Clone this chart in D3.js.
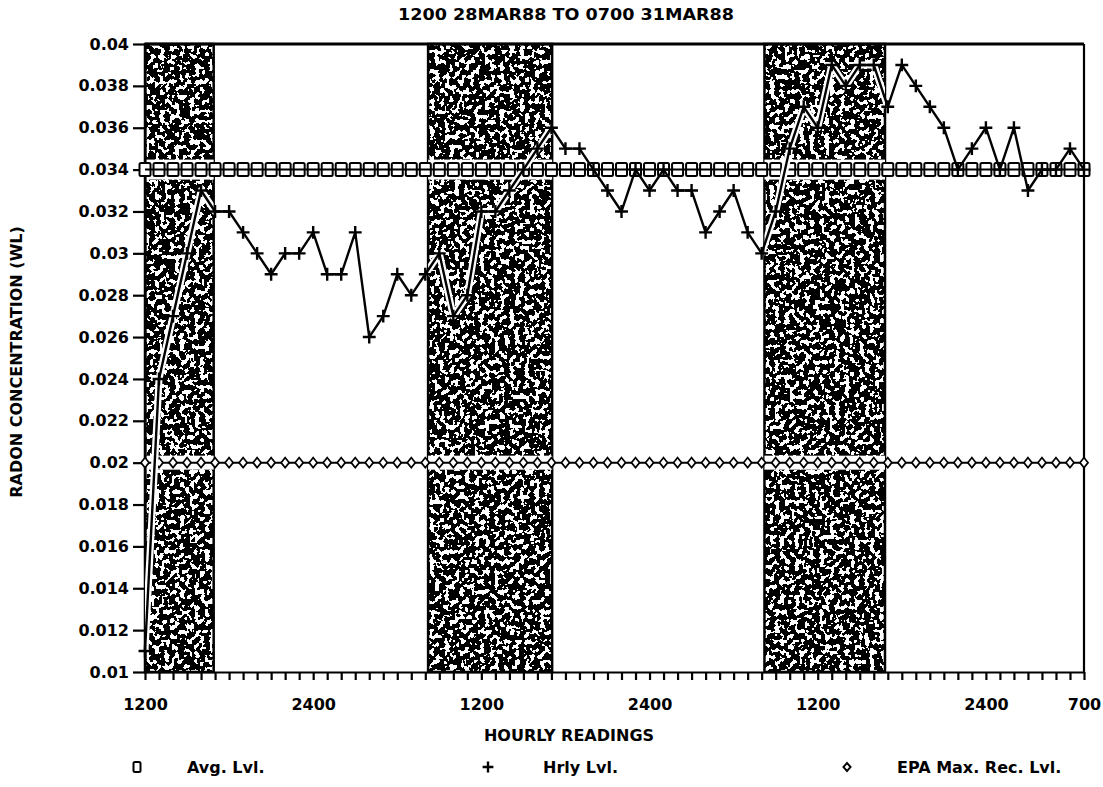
<!DOCTYPE html>
<html>
<head>
<meta charset="utf-8">
<script src="https://cdn.jsdelivr.net/npm/d3@7"></script>
<style>
    body { margin: 0; background: #fff; }
    svg { display: block; font-family: "DejaVu Sans", sans-serif; font-weight: bold; }
</style>
</head>
<body>
<div id="chart"></div>
<script>
// ---- 1. DATA ----
const title = "1200 28MAR88 TO 0700 31MAR88";

// hourly readings, 1200 28MAR88 (index 0) to 0700 31MAR88 (index 67)
const hrlyLvl = [
    0.011, 0.024, 0.027, 0.030, 0.033, 0.032, 0.032, 0.031, 0.030, 0.029,
    0.030, 0.030, 0.031, 0.029, 0.029, 0.031, 0.026, 0.027, 0.029, 0.028,
    0.029, 0.030, 0.027, 0.028, 0.032, 0.032, 0.033, 0.034, 0.035, 0.036,
    0.035, 0.035, 0.034, 0.033, 0.032, 0.034, 0.033, 0.034, 0.033, 0.033,
    0.031, 0.032, 0.033, 0.031, 0.030, 0.032, 0.035, 0.037, 0.036, 0.039,
    0.038, 0.039, 0.039, 0.037, 0.039, 0.038, 0.037, 0.036, 0.034, 0.035,
    0.036, 0.034, 0.036, 0.033, 0.034, 0.034, 0.035, 0.034
];
const avgLvl = 0.034;
const epaLvl = 0.02;

// shaded periods, in hour index
const shaded = [[0, 4.9], [20.2, 29.05], [44.2, 52.8]];

const xTickIdx  = [0, 12, 24, 36, 48, 60, 67];
const xTickText = ["1200", "2400", "1200", "2400", "1200", "2400", "700"];

const yTicks = [0.01, 0.012, 0.014, 0.016, 0.018, 0.02, 0.022, 0.024,
                0.026, 0.028, 0.03, 0.032, 0.034, 0.036, 0.038, 0.04];
const yTickText = ["0.01", "0.012", "0.014", "0.016", "0.018", "0.02", "0.022", "0.024",
                   "0.026", "0.028", "0.03", "0.032", "0.034", "0.036", "0.038", "0.04"];

const legendItems = ["Avg. Lvl.", "Hrly Lvl.", "EPA Max. Rec. Lvl."];

// ---- 2. SVG ----
const W = 1103, H = 787;
const svg = d3.select("#chart").append("svg")
    .attr("width", W)
    .attr("height", H);

const x = d3.scaleLinear().domain([0, hrlyLvl.length - 1]).range([145, 1084]);
const y = d3.scaleLinear().domain([0.01, 0.04]).range([672, 44]);
const idx = d3.range(hrlyLvl.length);

// ---- 3. STIPPLE TEXTURE FOR SHADED BANDS ----
const defs = svg.append("defs");
const f = defs.append("filter")
    .attr("id", "stipple")
    .attr("x", 0).attr("y", 0).attr("width", 1).attr("height", 1)
    .attr("color-interpolation-filters", "sRGB");
f.append("feTurbulence")
    .attr("type", "fractalNoise")
    .attr("baseFrequency", 0.2)
    .attr("numOctaves", 2)
    .attr("seed", 4)
    .attr("result", "noise");
f.append("feColorMatrix")
    .attr("in", "noise")
    .attr("type", "matrix")
    .attr("values", "0 0 0 0 0  0 0 0 0 0  0 0 0 0 0  1.8 0 0 0 -0.31")
    .attr("result", "al");
f.append("feComponentTransfer")
    .attr("in", "al")
    .attr("result", "bw")
    .append("feFuncA").attr("type", "discrete").attr("tableValues", "0 1");
f.append("feComposite")
    .attr("in", "bw")
    .attr("in2", "SourceGraphic")
    .attr("operator", "in");

// clip to the shaded bands (for the white halos)
const clip = defs.append("clipPath").attr("id", "bandclip");
clip.selectAll("rect")
    .data(shaded)
    .join("rect")
    .attr("x", d => x(d[0]))
    .attr("width", d => x(d[1]) - x(d[0]))
    .attr("y", y(0.04))
    .attr("height", y(0.01) - y(0.04));

const bands = svg.append("g");
bands.selectAll("rect.fill")
    .data(shaded)
    .join("rect")
    .attr("class", "fill")
    .attr("x", d => x(d[0]))
    .attr("width", d => x(d[1]) - x(d[0]))
    .attr("y", y(0.04))
    .attr("height", y(0.01) - y(0.04))
    .attr("fill", "#000")
    .attr("filter", "url(#stipple)");
bands.selectAll("rect.edge")
    .data(shaded)
    .join("rect")
    .attr("class", "edge")
    .attr("x", d => x(d[0]))
    .attr("width", d => x(d[1]) - x(d[0]))
    .attr("y", y(0.04))
    .attr("height", y(0.01) - y(0.04))
    .attr("fill", "none")
    .attr("stroke", "#000")
    .attr("stroke-width", 2.5);

// white gaps where the level lines cross the bands
const halo = svg.append("g").attr("clip-path", "url(#bandclip)");
halo.append("rect")
    .attr("x", x(0)).attr("width", x(67) - x(0))
    .attr("y", y(avgLvl) - 10).attr("height", 20)
    .attr("fill", "#fff");
halo.append("rect")
    .attr("x", x(0)).attr("width", x(67) - x(0))
    .attr("y", y(epaLvl) - 7).attr("height", 14)
    .attr("fill", "#fff");

// ---- 4. AXES + FRAME ----
const gy = svg.append("g")
    .attr("transform", `translate(${x(0)},0)`)
    .call(d3.axisLeft(y).tickValues(yTicks)
        .tickFormat((d, i) => yTickText[i])
        .tickSize(12).tickSizeOuter(0).tickPadding(4));

const gx = svg.append("g")
    .attr("transform", `translate(0,${y(0.01)})`)
    .call(d3.axisBottom(x).tickValues(idx).tickFormat("")
        .tickSize(8).tickSizeOuter(0));

const gxl = svg.append("g")
    .attr("transform", `translate(0,${y(0.01)})`)
    .call(d3.axisBottom(x).tickValues(xTickIdx)
        .tickFormat((d, i) => xTickText[i])
        .tickSize(0).tickPadding(27));
gxl.select(".domain").remove();

[gy, gx, gxl].forEach(g => {
    g.selectAll("path, line").attr("stroke", "#000").attr("stroke-width", 2.2);
    g.selectAll("text")
        .attr("fill", "#000")
        .style("font-family", "DejaVu Sans, sans-serif")
        .style("font-weight", "bold")
        .style("font-size", "16px");
});

svg.append("line")
    .attr("x1", x(0)).attr("x2", x(67))
    .attr("y1", y(0.04)).attr("y2", y(0.04))
    .attr("stroke", "#000").attr("stroke-width", 3);
svg.append("line")
    .attr("x1", x(67)).attr("x2", x(67))
    .attr("y1", y(0.04)).attr("y2", y(0.01))
    .attr("stroke", "#000").attr("stroke-width", 2.2);

// ---- 5. SERIES ----
const lineGen = d3.line().x(d => x(d[0])).y(d => y(d[1]));

// EPA max recommended level: diamonds
const epaPts = idx.map(i => [i, epaLvl]);
svg.append("path")
    .datum(epaPts)
    .attr("fill", "none").attr("stroke", "#000").attr("stroke-width", 2)
    .attr("d", lineGen);
svg.append("g").selectAll("path")
    .data(epaPts)
    .join("path")
    .attr("transform", d => `translate(${x(d[0])},${y(d[1])}) scale(0.8,1)`)
    .attr("d", d3.symbol(d3.symbolDiamond2, 64))
    .attr("fill", "#fff").attr("stroke", "#000").attr("stroke-width", 2);

// average level: squares
const avgPts = idx.map(i => [i, avgLvl]);
svg.append("g").selectAll("rect")
    .data(avgPts)
    .join("rect")
    .attr("x", d => x(d[0]) - 5.5)
    .attr("y", d => y(d[1]) - 6.5)
    .attr("width", 11).attr("height", 13)
    .attr("rx", 1.5)
    .attr("fill", "#fff").attr("stroke", "#000").attr("stroke-width", 2);
svg.append("path")
    .datum(avgPts)
    .attr("fill", "none").attr("stroke", "#000").attr("stroke-width", 2)
    .attr("d", lineGen);

// hourly level: line with plus markers
const hrlyPts = hrlyLvl.map((v, i) => [i, v]);
svg.append("path")
    .datum(hrlyPts)
    .attr("clip-path", "url(#bandclip)")
    .attr("fill", "none").attr("stroke", "#fff").attr("stroke-width", 7)
    .attr("stroke-linejoin", "round")
    .attr("d", lineGen);
svg.append("path")
    .datum(hrlyPts)
    .attr("fill", "none").attr("stroke", "#000").attr("stroke-width", 2.4)
    .attr("stroke-linejoin", "round")
    .attr("d", lineGen);
svg.append("g").selectAll("path")
    .data(hrlyPts)
    .join("path")
    .attr("transform", d => `translate(${x(d[0])},${y(d[1])})`)
    .attr("d", d3.symbol(d3.symbolPlus, 56))
    .attr("fill", "none").attr("stroke", "#000").attr("stroke-width", 2.4);

// ---- 6. TEXT ----
svg.append("text")
    .attr("x", 566).attr("y", 20)
    .attr("text-anchor", "middle")
    .attr("textLength", 336)
    .attr("lengthAdjust", "spacingAndGlyphs")
    .style("font-size", "15px")
    .text(title);

svg.append("text")
    .attr("transform", "translate(22,362) rotate(-90)")
    .attr("text-anchor", "middle")
    .style("font-size", "16px")
    .text("RADON CONCENTRATION (WL)");

svg.append("text")
    .attr("x", 569).attr("y", 741)
    .attr("text-anchor", "middle")
    .style("font-size", "16px")
    .text("HOURLY READINGS");

// ---- 7. LEGEND ----
const legendX = [137, 488, 847];
const legendTX = [187, 543, 897];
const lg = svg.append("g");
lg.append("rect")
    .attr("x", legendX[0] - 3.5).attr("y", 762)
    .attr("width", 7).attr("height", 10).attr("rx", 1.5)
    .attr("fill", "#fff").attr("stroke", "#000").attr("stroke-width", 2);
lg.append("path")
    .attr("transform", `translate(${legendX[1]},767)`)
    .attr("d", d3.symbol(d3.symbolPlus, 40))
    .attr("fill", "none").attr("stroke", "#000").attr("stroke-width", 2.4);
lg.append("path")
    .attr("transform", `translate(${legendX[2]},767) scale(0.9,1)`)
    .attr("d", d3.symbol(d3.symbolDiamond2, 40))
    .attr("fill", "#fff").attr("stroke", "#000").attr("stroke-width", 2);
lg.selectAll("text")
    .data(legendItems)
    .join("text")
    .attr("x", (d, i) => legendTX[i])
    .attr("y", 773)
    .style("font-size", "16px")
    .text(d => d);
</script>
</body>
</html>
